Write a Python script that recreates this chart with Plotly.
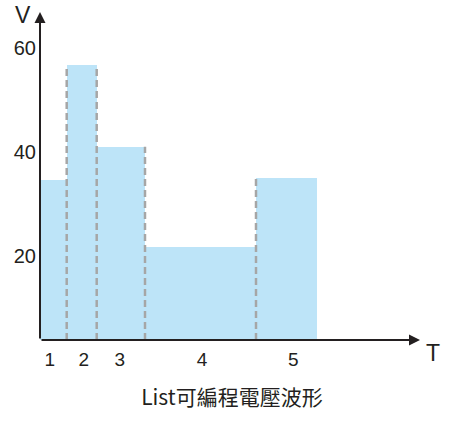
import plotly.graph_objects as go

# Data
steps = ["1", "2", "3", "4", "5"]
durations = [2.67, 3.0, 4.83, 11.1, 6.07]      # time length of each step (arbitrary T units)
voltages = [34.7, 56.7, 41.0, 21.8, 35.0]      # voltage of each step (V)
y_tick_vals = [20, 40, 60]
y_tick_text = ["20", "40", "60"]
title_text = "List可編程電壓波形"

# derived geometry
starts = []
acc = 0.0
for d in durations:
    starts.append(acc)
    acc += d
centers = [s + d / 2 for s, d in zip(starts, durations)]
# small label nudges as in the reference (label sits slightly off-centre in the first and last steps)
label_nudge = [-0.35, 0.2, -0.1, 0.15, 0.7]
label_pos = [c + n for c, n in zip(centers, label_nudge)]

X_MAX = 38.0
Y_MIN, Y_MAX = 3.85, 66.9

fig = go.Figure()
fig.add_trace(go.Bar(
    x=centers, y=voltages, width=durations,
    marker=dict(color="#bde4f8", line=dict(width=0)),
    hoverinfo="skip", showlegend=False,
))

# dashed dividers between adjacent steps
for i in range(1, len(durations)):
    xb = starts[i]
    top = max(voltages[i - 1], voltages[i])
    fig.add_trace(go.Scatter(
        x=[xb, xb], y=[Y_MIN, top], mode="lines",
        line=dict(color="#a6a6a6", width=2.5, dash="7px,4px"),
        hoverinfo="skip", showlegend=False, cliponaxis=False,
    ))

num_font = dict(family="Arial, Liberation Sans, sans-serif", size=20, color="#231f20")

fig.update_layout(
    width=462, height=422,
    margin=dict(l=40, r=42, t=12, b=82),
    paper_bgcolor="white", plot_bgcolor="white",
    bargap=0,
    xaxis=dict(range=[0, X_MAX], showgrid=False, zeroline=False, showline=False,
               tickmode="array", tickvals=label_pos, ticktext=steps, ticks="",
               tickfont=dict(family="Arial, Liberation Sans, sans-serif", size=19, color="#231f20"),
               ticklabelstandoff=6, automargin=False, fixedrange=True),
    yaxis=dict(range=[Y_MIN, Y_MAX], showgrid=False, zeroline=False, showline=False,
               tickmode="array", tickvals=y_tick_vals, ticktext=y_tick_text, ticks="",
               tickfont=num_font, ticklabelstandoff=3, automargin=False, fixedrange=True),
    title=dict(text=title_text, x=0.502, xanchor="center", y=1 - 398 / 422, yanchor="middle",
               yref="container", automargin=False,
               font=dict(family="Noto Sans CJK TC, sans-serif", size=21, color="#231f20")),
    showlegend=False,
)

# axes with arrows
fig.add_annotation(x=X_MAX, y=Y_MIN, ax=0, ay=Y_MIN, xref="x", yref="y", axref="x", ayref="y",
                   showarrow=True, arrowhead=2, arrowsize=1.1, arrowwidth=2, arrowcolor="#231f20", text="")
fig.add_annotation(x=0, y=Y_MAX, ax=0, ay=Y_MIN, xref="x", yref="y", axref="x", ayref="y",
                   showarrow=True, arrowhead=2, arrowsize=1.1, arrowwidth=2, arrowcolor="#231f20", text="")

# axis names
fig.add_annotation(text="V", x=-0.045, y=0.99, xref="paper", yref="paper", showarrow=False,
                   xanchor="center", yanchor="middle",
                   font=dict(family="Arial, Liberation Sans, sans-serif", size=23, color="#231f20"))
fig.add_annotation(text="T", x=1.034, y=-0.04, xref="paper", yref="paper", showarrow=False,
                   xanchor="center", yanchor="middle",
                   font=dict(family="Arial, Liberation Sans, sans-serif", size=23, color="#231f20"))

fig.write_html("out.html", config={"displayModeBar": False, "staticPlot": True},
               post_script="document.body.style.margin='0';")
